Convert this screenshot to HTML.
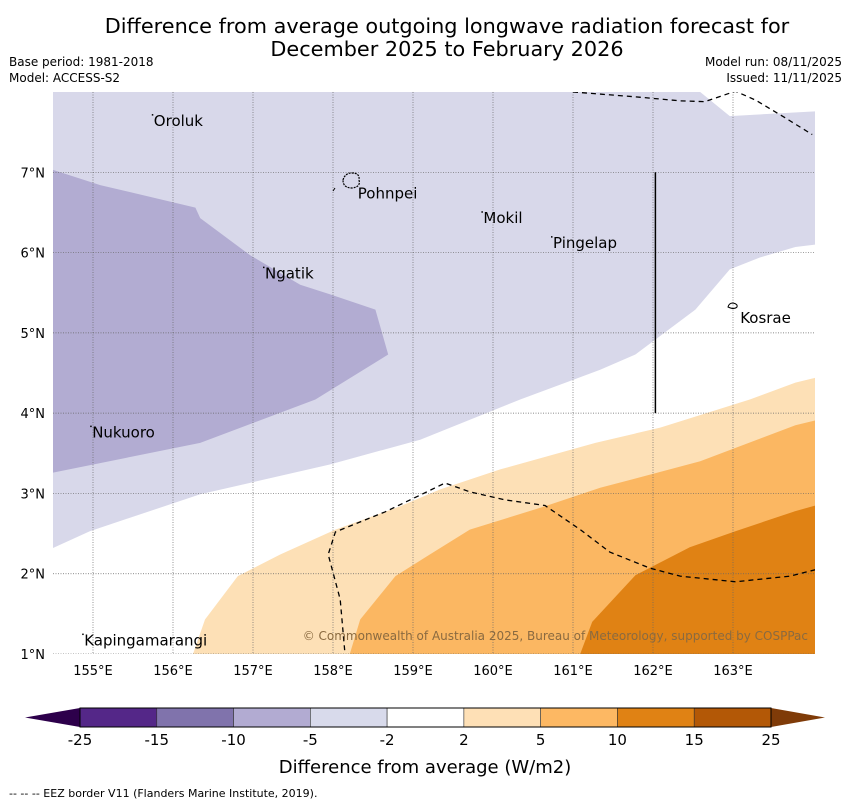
<!DOCTYPE html>
<html><head><meta charset="utf-8"><style>
body{margin:0;background:#fff;}
svg{display:block;font-family:"DejaVu Sans","Liberation Sans",sans-serif;}
</style></head><body>
<svg id="c" width="850" height="804" viewBox="0 0 850 804">
<text x="447" y="33" font-size="20.8" text-anchor="middle">Difference from average outgoing longwave radiation forecast for</text>
<text x="447" y="56" font-size="20.8" text-anchor="middle">December 2025 to February 2026</text>
<text x="9" y="66" font-size="12">Base period: 1981-2018</text>
<text x="9" y="82" font-size="12">Model: ACCESS-S2</text>
<text x="842" y="66" font-size="12" text-anchor="end">Model run: 08/11/2025</text>
<text x="842" y="82" font-size="12" text-anchor="end">Issued: 11/11/2025</text>
<defs><clipPath id="mc"><rect x="53" y="92" width="762" height="562"/></clipPath></defs>
<g id="map" clip-path="url(#mc)"></g>
<g id="ax"></g>
<text x="808" y="640" font-size="12" fill="#8a6a40" text-anchor="end">© Commonwealth of Australia 2025, Bureau of Meteorology, supported by COSPPac</text>
<g id="cb"></g>
<text x="425" y="773" font-size="18" text-anchor="middle">Difference from average (W/m2)</text>
<text x="9" y="797" font-size="11">--  --  -- EEZ border V11 (Flanders Marine Institute, 2019).</text>
<script>
const lonTicks=[155,156,157,158,159,160,161,162,163];
const latTicks=[1,2,3,4,5,6,7];
const cbLevels=["-25","-15","-10","-5","-2","2","5","10","15","25"];
const cbColors=["#542788","#8073ac","#b2abd2","#d8daeb","#ffffff","#fee0b6","#fdb863","#e08214","#b35806"];
const lightPurpleLon=[154.5,162.59,162.96,164.03,164.03,163.78,163.34,162.96,162.53,161.78,161.34,160.34,159.09,157.96,156.34,154.96,154.5];
const lightPurpleLat=[8.0,8.0,7.70,7.76,6.10,6.07,5.94,5.79,5.29,4.73,4.54,4.17,3.67,3.36,2.99,2.53,2.32];
const darkPurpleLon=[154.5,155.09,156.28,156.34,156.96,157.59,157.96,158.53,158.69,157.78,156.34,154.5];
const darkPurpleLat=[7.03,6.84,6.56,6.43,5.97,5.60,5.48,5.29,4.73,4.17,3.63,3.26];
const lightOrangeLon=[156.25,156.4,156.81,157.34,158.03,158.84,159.34,160.09,161.28,162.09,163.21,163.78,164.03,164.03];
const lightOrangeLat=[1.0,1.43,1.97,2.24,2.55,2.84,3.05,3.30,3.63,3.82,4.17,4.38,4.44,1.0];
const midOrangeLon=[158.21,158.34,158.78,159.21,159.71,160.65,161.34,162.59,163.78,164.03,164.03];
const midOrangeLat=[1.0,1.43,1.97,2.24,2.55,2.84,3.07,3.40,3.85,3.91,1.0];
const darkOrangeLon=[161.09,161.24,161.78,162.46,163.03,163.78,164.03,164.03];
const darkOrangeLat=[1.0,1.40,1.98,2.33,2.53,2.78,2.85,1.0];
const eezTopLon=[161.0,161.78,162.34,162.65,163.03,163.28,163.65,163.99];
const eezTopLat=[8.0,7.94,7.89,7.88,8.01,7.90,7.68,7.47];
const eezLowLon=[164.03,163.71,163.03,162.34,161.96,161.46,161.09,160.65,160.15,159.71,159.4,159.09,158.65,158.03,157.94,158.09,158.15];
const eezLowLat=[2.05,1.97,1.90,1.97,2.07,2.27,2.55,2.85,2.92,3.02,3.13,2.98,2.77,2.52,2.24,1.68,1.0];
const islands=["Oroluk","Pohnpei","Mokil","Pingelap","Ngatik","Kosrae","Nukuoro","Kapingamarangi"];
const islandLon=[155.76,158.31,159.88,160.75,157.15,163.09,154.99,154.89];
const islandLat=[7.70,6.80,6.49,6.18,5.80,5.25,3.82,1.23];
const NS="http://www.w3.org/2000/svg";
const X=lon=>53+(lon-154.5)*80;
const Y=lat=>92+(8-lat)*80.29;
function mk(p,t,a){const e=document.createElementNS(NS,t);for(const k in a)e.setAttribute(k,a[k]);p.appendChild(e);return e;}
const map=document.getElementById('map'),ax=document.getElementById('ax'),cb=document.getElementById('cb');
mk(map,'rect',{x:53,y:92,width:762,height:562,fill:'#fff'});
function poly(lo,la,fill,name){const pts=lo.map((v,i)=>X(v).toFixed(1)+','+Y(la[i]).toFixed(1)).join(' ');const e=mk(map,'polygon',{points:pts,fill:fill});

}
poly(lightPurpleLon,lightPurpleLat,'#d8d8ea','region-minus2-to-minus5');
poly(darkPurpleLon,darkPurpleLat,'#b2acd2','region-minus5-to-minus10');
poly(lightOrangeLon,lightOrangeLat,'#fde0b6','region-2-to-5');
poly(midOrangeLon,midOrangeLat,'#fbb762','region-5-to-10');
poly(darkOrangeLon,darkOrangeLat,'#e08214','region-10-to-15');
lonTicks.forEach(l=>{mk(map,'line',{x1:X(l),x2:X(l),y1:92,y2:654,stroke:'#666','stroke-width':0.7,'stroke-dasharray':'1,1.5'});
const t=mk(ax,'text',{x:X(l),y:675,'font-size':13,'text-anchor':'middle'});t.textContent=l+'°E';

});
latTicks.forEach(l=>{mk(map,'line',{x1:53,x2:815,y1:Y(l),y2:Y(l),stroke:'#666','stroke-width':0.7,'stroke-dasharray':'1,1.5'});
const t=mk(ax,'text',{x:45,y:Y(l)+5,'font-size':13,'text-anchor':'end'});t.textContent=l+'°N';

});
function line(lo,la,dash,name){const e=mk(map,'polyline',{points:lo.map((v,i)=>X(v)+','+Y(la[i])).join(' '),fill:'none',stroke:'#000','stroke-width':1.3,'stroke-dasharray':dash});

}
line(eezTopLon,eezTopLat,'5,4','eez-border-north');
line(eezLowLon,eezLowLat,'5,4','eez-border-south');
mk(map,'line',{x1:X(162.03),x2:X(162.03),y1:Y(7),y2:Y(4),stroke:'#000','stroke-width':1.5});
mk(map,'path',{d:'M343,180 q2,-7 9,-7 q8,0 7,7 q2,7 -7,8 q-9,0 -9,-8z',fill:'none',stroke:'#000','stroke-width':1.2,'stroke-dasharray':'2,1'});
mk(map,'line',{x1:335,y1:188,x2:333,y2:191,stroke:'#000','stroke-width':1});
mk(map,'path',{d:'M728,307 q1,-4 5,-4 q5,1 4,4 q-3,3 -9,0z',fill:'none',stroke:'#000','stroke-width':1});
islands.forEach((n,i)=>{const x=X(islandLon[i]),y=Y(islandLat[i]);
if(n!=="Pohnpei"&&n!=="Kosrae")mk(map,'rect',{x:x-2,y:y-2,width:1.5,height:1.5,fill:'#000'});
const t=mk(ax,'text',{x:x,y:y+10,'font-size':15});t.textContent=n;

});
const cx0=80,cw=(771-80)/9,cy=708,ch=19;
mk(cb,'polygon',{points:`25,717.5 ${cx0},${cy} ${cx0},${cy+ch}`,fill:'#2d004b'});
mk(cb,'polygon',{points:`825,717.5 771,${cy} 771,${cy+ch}`,fill:'#7f3b08'});
cbColors.forEach((c,i)=>{const r=mk(cb,'rect',{x:cx0+i*cw,y:cy,width:cw,height:ch,fill:c,stroke:'#333','stroke-width':0.6});

});
mk(cb,'rect',{x:cx0,y:cy,width:771-cx0,height:ch,fill:'none',stroke:'#000','stroke-width':1});
cbLevels.forEach((l,i)=>{const t=mk(cb,'text',{x:cx0+i*cw,y:745,'font-size':15,'text-anchor':'middle'});t.textContent=l;

});
</script>
</svg>
</body></html>
